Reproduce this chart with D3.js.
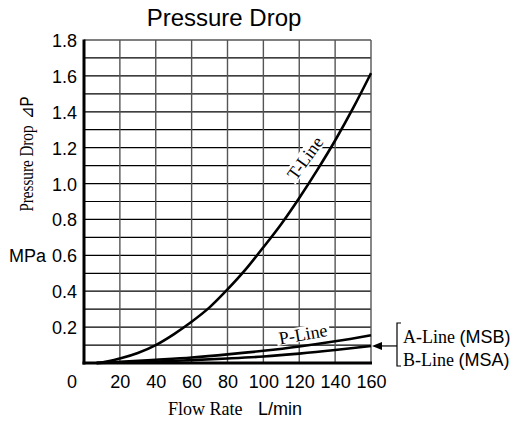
<!DOCTYPE html>
<html><head><meta charset="utf-8">
<script src="https://cdn.jsdelivr.net/npm/d3@7"></script>
<style>body{margin:0;background:#fff}</style>
</head><body>
<svg id="c" width="517" height="421"></svg>
<script>
const xTicks = [0,20,40,60,80,100,120,140,160];
const yTicks = [0.2,0.4,0.6,0.8,1.0,1.2,1.4,1.6,1.8];
const flowT = [7,10,20,30,40,50,60,70,80,90,100,110,120,130,140,150,160];
const tLine = [0,0.003,0.025,0.056,0.10,0.16,0.23,0.31,0.41,0.52,0.645,0.775,0.92,1.075,1.24,1.42,1.615];
const flowL = [7,20,40,60,80,100,120,140,160];
const pLine = [0,0.006,0.018,0.031,0.048,0.068,0.092,0.121,0.155];
const abLine = [0,0.003,0.008,0.016,0.025,0.036,0.052,0.072,0.095];

const svg = d3.select("#c");
const x = d3.scaleLinear().domain([0,160]).range([84,371]);
const y = d3.scaleLinear().domain([0,1.8]).range([363,40]);
const sans = "'Liberation Sans', Arial, sans-serif";
const serif = "'Liberation Serif', 'Times New Roman', serif";

// grid
const gy = d3.range(1,19).map(i=>i/10);
svg.append("g").selectAll("line").data(gy).join("line")
  .attr("x1",x(0)).attr("x2",x(160)).attr("y1",d=>y(d)).attr("y2",d=>y(d))
  .attr("stroke","#000").attr("stroke-width",1.2);
svg.append("g").selectAll("line").data(xTicks.slice(1)).join("line")
  .attr("x1",d=>x(d)).attr("x2",d=>x(d)).attr("y1",y(0)).attr("y2",y(1.8))
  .attr("stroke","#555").attr("stroke-width",1.4);

// axes (thick)
svg.append("line").attr("x1",x(0)).attr("x2",x(0)).attr("y1",y(0)+1.5).attr("y2",y(1.8)-0.5)
  .attr("stroke","#000").attr("stroke-width",3);
svg.append("line").attr("x1",x(0)-1.5).attr("x2",x(160)+1).attr("y1",y(0)).attr("y2",y(0))
  .attr("stroke","#000").attr("stroke-width",3);

// tick labels via axes
const ax = d3.axisBottom(x).tickValues(xTicks.slice(1)).tickSize(0).tickFormat(d3.format("d"));
const gX = svg.append("g").attr("transform",`translate(0,${y(0)})`).call(ax);
gX.select(".domain").remove();
gX.selectAll("text").attr("y",25).attr("dy",0).attr("font-family",sans).attr("font-size",18).attr("fill","#000");
svg.append("text").attr("x",x(0)-12).attr("y",y(0)+25).attr("text-anchor","middle")
  .attr("font-family",sans).attr("font-size",18).text("0");

const ay = d3.axisLeft(y).tickValues(yTicks).tickSize(0).tickPadding(7).tickFormat(d3.format(".1f"));
const gY = svg.append("g").attr("transform",`translate(${x(0)},0)`).call(ay);
gY.select(".domain").remove();
gY.selectAll("text").attr("font-family",sans).attr("font-size",18).attr("fill","#000").attr("dy","0.36em");

// curves
const line = d3.line().x(d=>x(d[0])).y(d=>y(d[1])).curve(d3.curveMonotoneX);
[[flowT,tLine],[flowL,pLine],[flowL,abLine]].forEach(([f,v])=>{
  svg.append("path").datum(f.map((q,i)=>[q,v[i]])).attr("d",line)
    .attr("fill","none").attr("stroke","#000").attr("stroke-width",2.6);
});

// curve labels with white bg
function label(cx,cy,ang,txt,w,h){
  const g = svg.append("g").attr("transform",`translate(${cx},${cy}) rotate(${ang})`);
  g.append("rect").attr("x",-w/2).attr("y",-h/2).attr("width",w).attr("height",h).attr("fill","#fff");
  g.append("text").attr("text-anchor","middle").attr("dy","0.35em")
    .attr("font-family",serif).attr("font-size",18).text(txt);
}
label(305,158,-54,"T-Line",54,16);
label(303,334,-10,"P-Line",54,15);

// title
svg.append("text").attr("x",224).attr("y",26).attr("text-anchor","middle")
  .attr("font-family",sans).attr("font-size",24).text("Pressure Drop");

// y label
const yl = svg.append("text").attr("transform","translate(33,154) rotate(-90) scale(0.84,1)").attr("text-anchor","middle")
  .attr("font-size",18);
yl.append("tspan").attr("font-family",serif).text("Pressure Drop ");
yl.append("tspan").attr("font-family",sans).attr("dx",3).text("⊿P");
svg.append("text").attr("x",9).attr("y",y(0.6)+7).attr("font-family",sans).attr("font-size",18).text("MPa");

// x label
const xl = svg.append("text").attr("x",168).attr("y",415).attr("font-size",18);
xl.append("tspan").attr("font-family",serif).text("Flow Rate");
xl.append("tspan").attr("font-family",sans).attr("x",258).text("L/min");

// legend bracket + arrow
const ya = y(0.095);
svg.append("path").attr("d",`M401,323 H397 V366 H401`).attr("fill","none").attr("stroke","#000").attr("stroke-width",1.2);
svg.append("line").attr("x1",397).attr("x2",380).attr("y1",ya).attr("y2",ya).attr("stroke","#000").attr("stroke-width",1.2);
svg.append("path").attr("d",`M372,${ya} L382,${ya-4} L382,${ya+4} Z`).attr("fill","#000");
function leg(yy,a,b){
  const t = svg.append("text").attr("x",403).attr("y",yy).attr("font-size",18);
  t.append("tspan").attr("font-family",serif).text(a+" ");
  t.append("tspan").attr("font-family",sans).text(b);
}
leg(343,"A-Line","(MSB)");
leg(366,"B-Line","(MSA)");
</script>
</body></html>
